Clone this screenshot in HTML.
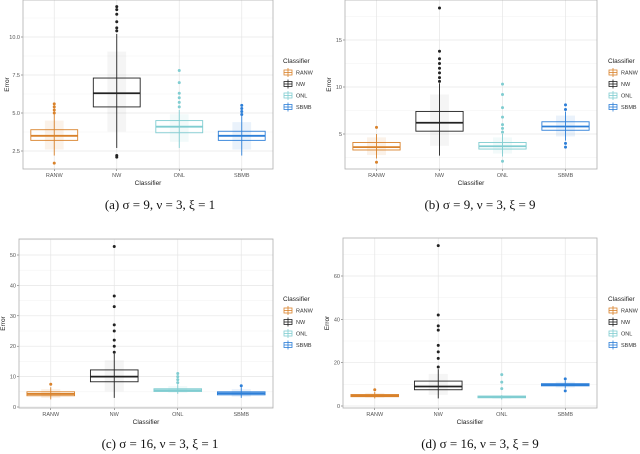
<!DOCTYPE html>
<html><head><meta charset="utf-8"><style>
html,body{margin:0;padding:0;background:#fff;width:640px;height:454px;overflow:hidden}
svg{display:block;font-family:"Liberation Sans",sans-serif}
.cap{font-family:"Liberation Serif",serif;font-size:13px;fill:#111}
</style></head><body>
<svg id="chart" width="640" height="454"></svg>
<script>
const categories = ["RANW","NW","ONL","SBMB"];
const colors = ["#d9822b","#222222","#80cdd1","#2d7fd8"];
// panel a
const aLow=[2.2,2.7,2.7,2.2], aQ1=[3.2,5.4,3.7,3.2], aMed=[3.5,6.3,4.1,3.5], aQ3=[3.9,7.3,4.5,3.8], aHigh=[4.9,10.2,5.2,4.8];
const aOut=[[5.0,5.2,5.4,5.6,1.7],[10.4,10.6,11,11.5,11.8,12,2.1,2.2],[5.4,5.7,6,6.3,7,7.8],[4.9,5.1,5.3,5.5]];
const aTicks=[2.5,5.0,7.5,10.0];
// panel b
const bLow=[2.4,2.7,2.6,4.3], bQ1=[3.3,5.3,3.4,5.4], bMed=[3.6,6.2,3.7,5.8], bQ3=[4.1,7.4,4.1,6.3], bHigh=[5,10.4,5,7.4];
const bOut=[[5.7,2.0],[10.6,11,11.5,12,12.5,13,13.8,18.4],[5.2,5.6,6,6.8,7.8,9.2,10.3,2.1],[7.6,8.1,4,3.6]];
const bTicks=[5,10,15];
// panel c
const cLow=[2.5,3,4.3,3], cQ1=[3.7,8.3,5.1,4], cMed=[4.3,10,5.5,4.5], cQ3=[5,12.2,6,5], cHigh=[6.5,17.5,7.5,6.5];
const cOut=[[7.5],[18,20,22,25,27,33,36.5,52.8],[8,9,10,11],[7]];
const cTicks=[0,10,20,30,40,50];
// panel d
const dLow=[3.5,3.5,3,8], dQ1=[4.3,7.5,3.8,9.3], dMed=[4.8,9,4.2,9.8], dQ3=[5.3,11.5,4.6,10.3], dHigh=[6.5,17,5,11.8];
const dOut=[[7.5],[18,22,25,28,35,37,42,74],[8,11,14.5],[7,12.5]];
const dTicks=[0,20,40,60];

const NS="http://www.w3.org/2000/svg";
const svg=document.getElementById('chart');
function mk(tag,attrs,parent,text){const e=document.createElementNS(NS,tag);for(const k in attrs)e.setAttribute(k,attrs[k]);if(text!==undefined)e.textContent=text;(parent||svg).appendChild(e);return e;}

function panel(id,L,T,R,B,v0,y0,v1,y1,ticks,low,q1,med,q3,high,out,legX,legY,cap,capX,capY){
  const g=mk('g',{});
  
  
  const ys=v=>y0+(v-v0)*(y1-y0)/(v1-v0);
  const bw=(R-L)/4;
  const xs=i=>L+bw*(i+0.5);
  for(let i=0;i<ticks.length+1;i++){
    const step=ticks.length>1?ticks[1]-ticks[0]:1;
    const v=ticks[0]-step/2+i*step;
    const y=ys(v); if(y>T&&y<B) mk('line',{x1:L,x2:R,y1:y,y2:y,stroke:'#f2f2f2','stroke-width':0.5},g);
  }
  ticks.forEach(t=>{const y=ys(t);
    const gl=mk('line',{x1:L,x2:R,y1:y,y2:y,stroke:'#e6e6e6','stroke-width':0.7},g);
    
    mk('line',{x1:L-2,x2:L,y1:y,y2:y,stroke:'#444','stroke-width':0.5},g);
    const tl=mk('text',{x:L-3,y:y+2,'font-size':5.5,'text-anchor':'end',fill:'#555'},g,(ticks.includes(2.5)?t.toFixed(1):t));
    
  });
  categories.forEach((c,i)=>{
    mk('line',{x1:xs(i),x2:xs(i),y1:T,y2:B,stroke:'#e6e6e6','stroke-width':0.7},g);
    mk('line',{x1:xs(i),x2:xs(i),y1:B,y2:B+2,stroke:'#444','stroke-width':0.5},g);
    const tl=mk('text',{x:xs(i),y:B+8,'font-size':5.5,'text-anchor':'middle',fill:'#555'},g,c);
    
  });
  const fr=mk('rect',{x:L,y:T,width:R-L,height:B-T,fill:'none',stroke:'#b0b0b0','stroke-width':0.8},g);
  
  const yt=mk('text',{x:0,y:0,'font-size':6.5,'text-anchor':'middle',fill:'#222',transform:`translate(${L-14},${(T+B)/2}) rotate(-90)`},g,'Error');
  
  const xt=mk('text',{x:(L+R)/2,y:B+16,'font-size':6.5,'text-anchor':'middle',fill:'#222'},g,'Classifier');
  
  const w=bw*0.75;
  categories.forEach((c,i)=>{
    const x=xs(i), col=colors[i];
    const cl=mk('rect',{x:x-w*0.2,y:ys(q3[i]+(high[i]-q3[i])*0.6),width:w*0.4,height:ys(q1[i]-(q1[i]-low[i])*0.6)-ys(q3[i]+(high[i]-q3[i])*0.6),fill:i==1?'#999':col,opacity:0.1},g);
    
    const wh=mk('line',{x1:x,x2:x,y1:ys(low[i]),y2:ys(high[i]),stroke:col,'stroke-width':0.9},g);
    
    const bx=mk('rect',{x:x-w/2,y:ys(q3[i]),width:w,height:ys(q1[i])-ys(q3[i]),fill:'none',stroke:col,'stroke-width':0.9},g);
    
    const md=mk('line',{x1:x-w/2,x2:x+w/2,y1:ys(med[i]),y2:ys(med[i]),stroke:col,'stroke-width':1.8},g);
    
    out[i].forEach(v=>{const p=mk('circle',{cx:x,cy:ys(v),r:1.5,fill:col},g);
      });
  });
  const lt=mk('text',{x:legX,y:legY,'font-size':6.5,fill:'#222'},g,'Classifier');
  
  categories.forEach((c,i)=>{
    const y=legY+9+i*11.5;
    const le=mk('g',{},g);
    
    mk('rect',{x:legX+1,y:y-2,width:8,height:5,fill:'none',stroke:colors[i],'stroke-width':0.8},le);
    mk('line',{x1:legX+5,x2:legX+5,y1:y-4,y2:y+5,stroke:colors[i],'stroke-width':0.8},le);
    mk('line',{x1:legX+1,x2:legX+9,y1:y+0.5,y2:y+0.5,stroke:colors[i],'stroke-width':0.8},le);
    mk('text',{x:legX+13,y:y+2.5,'font-size':5.5,fill:'#333'},le,c);
  });
  const cp=mk('text',{x:capX,y:capY,'text-anchor':'middle',class:'cap'},g,cap);
  
}
panel('a',23,0,273,169,2.5,151,10,37,aTicks,aLow,aQ1,aMed,aQ3,aHigh,aOut,283,63,'(a) σ = 9, ν = 3, ξ = 1',160,209);
panel('b',345,0,597,169,5,134,15,40,bTicks,bLow,bQ1,bMed,bQ3,bHigh,bOut,608,63,'(b) σ = 9, ν = 3, ξ = 9',480,209);
panel('c',19,239,273,408,0,407,50,255,cTicks,cLow,cQ1,cMed,cQ3,cHigh,cOut,283,301,'(c) σ = 16, ν = 3, ξ = 1',160,448);
panel('d',343,238,597,408,0,406,60,276,dTicks,dLow,dQ1,dMed,dQ3,dHigh,dOut,608,301,'(d) σ = 16, ν = 3, ξ = 9',480,448);
</script>
</body></html>
